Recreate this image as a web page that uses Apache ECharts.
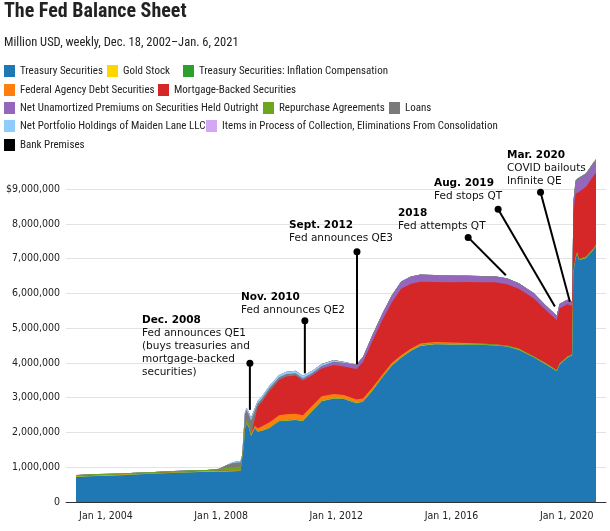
<!DOCTYPE html>
<html><head><meta charset="utf-8">
<script src="https://cdn.jsdelivr.net/npm/echarts@6/dist/echarts.min.js"></script>
<style>html,body{margin:0;padding:0;background:#fff}#c{width:610px;height:531px}</style>
</head><body><div id="c"></div>
<script>
const dates = ['2002-12-18','2003-06-04','2004-01-07','2004-07-07','2005-01-05','2005-07-06','2006-01-04','2006-07-05','2007-01-03','2007-07-04',
 '2007-12-05','2008-03-05','2008-06-04','2008-09-03','2008-09-24','2008-10-15','2008-10-29','2008-11-19','2008-12-17','2009-01-14',
 '2009-02-04','2009-03-04','2009-04-08','2009-06-03','2009-09-02','2010-01-06','2010-04-07','2010-08-04','2010-11-03','2011-03-02',
 '2011-06-29','2011-11-30','2011-12-07','2012-04-04','2012-09-12','2012-12-05','2013-04-03','2013-08-07','2013-12-04','2014-04-02',
 '2014-08-06','2014-12-03','2015-06-03','2016-01-06','2016-07-06','2017-01-04','2017-07-05','2017-12-06','2018-05-02','2018-11-07',
 '2019-04-03','2019-08-28','2019-09-11','2019-10-02','2020-01-08','2020-03-11','2020-03-18','2020-03-25','2020-04-22','2020-05-13',
 '2020-06-03','2020-09-02','2020-12-02','2021-01-06'];

const treasury = [720000,740000,755000,770000,790000,810000,825000,840000,855000,870000,
 880000,880000,885000,890000,900000,1600000,2100000,2250000,2150000,1900000,
 1880000,2120000,2020000,2050000,2120000,2320000,2340000,2360000,2330000,2620000,
 2900000,2980000,3030000,2960000,2840000,2880000,3200000,3580000,3920000,4150000,
 4350000,4490000,4540000,4530000,4520000,4520000,4500000,4470000,4380000,4160000,
 3970000,3760000,3780000,3950000,4150000,4220000,5500000,6600000,7000000,7150000,
 6950000,7020000,7250000,7360000];
const goldStock = [11000,11000,11000,11000,11000,11000,11000,11000,11000,11000,
 11000,11000,11000,11000,11000,11000,11000,11000,11000,11000,
 11000,11000,11000,11000,11000,11000,11000,11000,11000,11000,
 11000,11000,11000,11000,11000,11000,11000,11000,11000,11000,
 11000,11000,11000,11000,11000,11000,11000,11000,11000,11000,
 11000,11000,11000,11000,11000,11000,11000,11000,11000,11000,
 11000,11000,11000,11000];
const inflationComp = [1000,1500,2000,2200,2500,2800,3000,3300,3600,4000,
 4300,4600,5000,5000,5000,5000,5000,5000,5000,5000,
 5000,5000,5000,5200,5500,5800,6000,6200,6500,7000,
 7500,8000,8000,8500,9000,9500,10000,10500,11000,11500,
 12000,12500,13000,13500,14000,15000,16000,17000,18000,19000,
 20000,21000,21000,21500,22000,22500,22500,22500,23000,23500,
 24000,26000,28000,29000];
const agencyDebt = [0,0,0,0,0,0,0,0,0,0,
 0,0,0,0,5000,12000,15000,20000,20000,30000,
 40000,60000,80000,110000,150000,160000,170000,160000,150000,130000,
 120000,110000,105000,95000,85000,78000,70000,60000,55000,50000,
 45000,42000,36000,33000,25000,15000,10000,5000,4000,2400,
 2400,2400,2400,2400,2400,2400,2400,2400,2400,2400,
 2400,2400,2400,2400];
const mbs = [0,0,0,0,0,0,0,0,0,0,
 0,0,0,0,0,0,0,0,0,0,
 20000,200000,630000,710000,900000,1010000,1080000,1100000,1000000,880000,
 800000,830000,830000,820000,880000,1050000,1340000,1570000,1740000,1910000,
 1860000,1780000,1730000,1730000,1760000,1760000,1780000,1760000,1720000,1670000,
 1530000,1430000,1550000,1580000,1500000,1380000,1420000,1680000,1830000,1730000,
 1930000,2010000,2080000,2070000];
const premiums = [0,0,0,0,0,0,0,0,0,0,
 0,0,0,0,0,0,0,0,0,0,
 0,5000,7000,10000,15000,20000,22000,25000,30000,40000,
 60000,85000,90000,100000,120000,140000,165000,185000,200000,205000,
 205000,200000,195000,190000,180000,175000,170000,165000,155000,145000,
 135000,130000,130000,130000,128000,128000,180000,280000,320000,330000,
 335000,340000,345000,350000];
const repo = [40000,45000,40000,35000,35000,30000,35000,40000,40000,35000,
 45000,100000,100000,110000,90000,80000,80000,80000,80000,20000,
 0,0,0,0,0,0,0,0,0,0,
 0,0,0,0,0,0,0,0,0,0,
 0,0,0,0,0,0,0,0,0,0,
 0,0,0,0,0,0,0,0,0,0,
 0,0,0,0];
const loans = [200,200,200,300,300,300,300,300,300,500,
 10000,60000,120000,130000,300000,350000,330000,280000,250000,380000,
 400000,230000,80000,80000,70000,60000,50000,40000,35000,25000,
 15000,10000,10000,5000,3000,2000,1000,800,600,500,
 500,400,300,300,300,200,200,200,200,200,
 100,100,100,100,100,100,100,30000,50000,50000,
 45000,40000,35000,30000];
const maidenLane = [0,0,0,0,0,0,0,0,0,0,
 0,0,29000,30000,30000,30000,40000,60000,70000,72000,
 70000,68000,66000,65000,64000,64000,66000,67000,66000,60000,
 50000,45000,44000,30000,3000,1800,1800,1800,1800,1800,
 1800,1800,1800,1800,1800,1800,1800,1800,1800,1800,
 0,0,0,0,0,0,0,0,0,0,
 0,0,0,0];
const itemsInProcess = [900,700,800,600,900,700,800,1000,700,900,
 800,600,700,900,1200,800,700,900,1000,600,
 700,800,500,600,700,800,600,500,700,600,
 500,600,700,500,400,600,500,400,600,500,
 400,500,300,400,500,300,400,500,300,400,
 300,400,500,300,400,600,500,400,300,400,
 500,300,400,500];
const bankPremises = [1600,1650,1700,1750,1800,1850,1900,1950,2000,2050,
 2100,2100,2100,2100,2100,2100,2100,2100,2100,2100,
 2100,2100,2100,2100,2100,2100,2100,2100,2100,2100,
 2200,2200,2200,2200,2200,2200,2200,2200,2200,2200,
 2200,2200,2200,2200,2200,2200,2200,2200,2200,2200,
 2200,2200,2200,2200,2200,2200,2200,2200,2200,2200,
 2200,2200,2200,2200];

const seriesNames = ['Treasury Securities','Gold Stock','Treasury Securities: Inflation Compensation','Federal Agency Debt Securities','Mortgage-Backed Securities','Net Unamortized Premiums on Securities Held Outright','Repurchase Agreements','Loans','Net Portfolio Holdings of Maiden Lane LLC','Items in Process of Collection, Eliminations From Consolidation','Bank Premises'];
const seriesValues = [treasury, goldStock, inflationComp, agencyDebt, mbs, premiums, repo, loans, maidenLane, itemsInProcess, bankPremises];
const colors = ['#1f77b4','#ffd700','#2ca02c','#ff7f0e','#d62728','#9467bd','#6ca61c','#7a7a7a','#8ecdfb','#d3a6f6','#000000'];

const xTickYears = [2004, 2008, 2012, 2016, 2020];
const yLabelMax = 9000000;
const yAxisMax = 10000000;

const annTitles = ['Dec. 2008','Nov. 2010','Sept. 2012','2018','Aug. 2019','Mar. 2020'];
const annTexts = [['Fed announces QE1','(buys treasuries and','mortgage-backed','securities)'],['Fed announces QE2'],['Fed announces QE3'],['Fed attempts QT'],['Fed stops QT'],['COVID bailouts','Infinite QE']];
const annDotDates = ['2008-12-31','2010-11-28','2012-09-19','2016-07-30','2017-08-14','2019-02-03'];
const annDotValues = [3990000,5210000,7200000,7610000,8420000,8910000];
const annEndDates = ['2008-12-31','2010-11-28','2012-09-19','2017-11-20','2019-08-04','2020-02-10'];
const annEndValues = [2650000,3700000,3960000,6520000,5620000,5760000];

// layout
const annTextPos = [[142,320],[241,297],[289,225],[398,213],[434,183],[507,155]];
const legendPos = [[4,71],[107,71],[183,71],[4,90],[158,90],[4,108],[263,108],[389,108],[4,126],[206,126],[4,145]];

function toTs(s){const p=s.split('-').map(Number);return new Date(p[0],p[1]-1,p[2]).getTime();}
const xMin = toTs('2002-08-13'), xMax = toTs('2021-05-13');

const NARROW = "'Liberation Sans Narrow','Roboto Condensed','Arial Narrow','Liberation Sans',sans-serif";
const VERD = "'DejaVu Sans',Verdana,sans-serif";
const TAH = "'DejaVu Sans Condensed','DejaVu Sans',sans-serif";

const chart = echarts.init(document.getElementById('c'), null, {renderer:'canvas'});

// stacked layers: each layer's top = running total of the layers below it and itself;
// layers are painted from the outermost total inward so every band shows its own colour.
const series = seriesNames.map((n,i)=>({
  name:n, type:'line', xAxisIndex:0,
  data: dates.map((d,j)=>{ let top = 0; for (let k = 0; k <= i; k++) top += seriesValues[k][j]; return [d, top]; }),
  showSymbol:false, symbol:'none', lineStyle:{width:0, opacity:0},
  areaStyle:{color:colors[i], opacity:1, origin:'start'}, itemStyle:{color:colors[i]},
  emphasis:{disabled:true}, silent:true, z:2, animation:false
})).reverse();
series.push({
  type:'custom', name:'annotations', xAxisIndex:1, silent:true, clip:false, z:10, animation:false,
  encode:{x:[0,2], y:[1,3]},
  data: annDotDates.map((d,i)=>[toTs(d), annDotValues[i], toTs(annEndDates[i]), annEndValues[i]]),
  renderItem:function(p, api){
    const a = api.coord([api.value(0), api.value(1)]);
    const b = api.coord([api.value(2), api.value(3)]);
    return {type:'group', children:[
      {type:'line', shape:{x1:a[0],y1:a[1],x2:b[0],y2:b[1]}, style:{stroke:'#000', lineWidth:2}},
      {type:'circle', shape:{cx:a[0],cy:a[1],r:3.5}, style:{fill:'#000'}}
    ]};
  }
});

const legends = seriesNames.map((n,i)=>({
  data:[n], left:legendPos[i][0], top:legendPos[i][1]-7, padding:0,
  itemWidth:11, itemHeight:12, itemGap:0, icon:'rect', selectedMode:false,
  textStyle:{fontFamily:NARROW, fontSize:11, color:'#222', lineHeight:14}
}));

const graphics = [
  {type:'text', left:4, top:2, style:{text:'The Fed Balance Sheet', font:"bold 20px "+NARROW, fill:'#222'}},
  {type:'text', left:4, top:36, style:{text:'Million USD, weekly, Dec. 18, 2002\u2013Jan. 6, 2021', font:"12.5px "+NARROW, fill:'#222'}}
];
annTitles.forEach((t,i)=>{
  const txt = '{b|'+t+'}\n' + annTexts[i].map(s=>'{r|'+s+'}').join('\n');
  graphics.push({type:'text', x:annTextPos[i][0], y:annTextPos[i][1]-6.5, z:20,
    style:{text:txt, fill:'#111', rich:{
      b:{fontFamily:VERD, fontWeight:'bold', fontSize:10.5, lineHeight:13, fill:'#000'},
      r:{fontFamily:VERD, fontSize:10.5, lineHeight:13, fill:'#111'}
    }}});
});

const gridColors = [];
for (let v = 0; v <= yAxisMax; v += 1000000) gridColors.push(v <= yLabelMax ? '#e3e3e3' : 'rgba(0,0,0,0)');

chart.setOption({
  animation:false,
  backgroundColor:'#fff',
  grid:{left:66, right:4, top:154.3, bottom:29, containLabel:false, outerBoundsMode:'none'},
  legend: legends,
  xAxis:[
    {type:'time', min:xMin, max:xMax, position:'bottom',
      axisLine:{show:true, lineStyle:{color:'#333', width:1}},
      axisTick:{show:false}, splitLine:{show:false}, axisLabel:{show:false}},
    {type:'value', min:xMin, max:xMax, position:'bottom', offset:0,
      axisLine:{show:false}, axisTick:{show:false}, splitLine:{show:false},
      axisLabel:{customValues: xTickYears.map(y=>new Date(y,0,1).getTime()),
        formatter:function(v){return 'Jan 1, '+new Date(v).getFullYear();},
        fontFamily:TAH, fontSize:10.5, color:'#222', margin:9, hideOverlap:false}}
  ],
  yAxis:{type:'value', min:0, max:yAxisMax, interval:1000000,
    axisLine:{show:false}, axisTick:{show:false},
    splitLine:{show:true, lineStyle:{color:gridColors, width:1}},
    axisLabel:{fontFamily:TAH, fontSize:10.5, color:'#222', margin:6,
      formatter:function(v){ if (v > yLabelMax) return ''; const s = v.toLocaleString('en-US'); return v===yLabelMax ? '$'+s : s; }}},
  graphic: graphics,
  series: series
});
</script></body></html>
